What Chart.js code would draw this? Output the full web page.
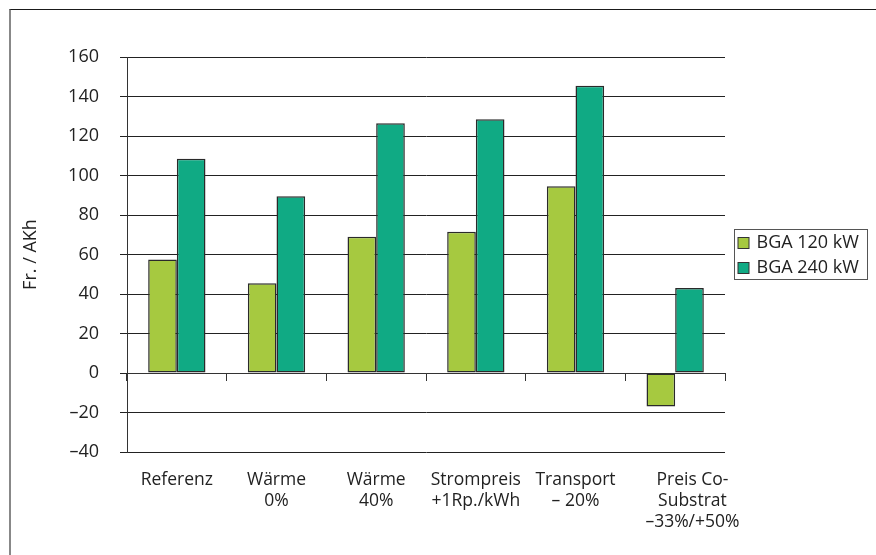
<!DOCTYPE html>
<html>
<head>
<meta charset="utf-8">
<script src="https://cdn.jsdelivr.net/npm/chart.js@4.4.1/dist/chart.umd.min.js"></script>
<style>
  html, body { margin: 0; padding: 0; background: #fff; }
  #wrap { position: relative; width: 876px; height: 555px; }
  #frame { position: absolute; left: 9px; top: 9px; right: 0; bottom: 0;
           border-top: 1px solid #1a1a1a; border-left: 2px solid #888; pointer-events: none; }
</style>
</head>
<body>
<div id="wrap">
  <canvas id="costChart" width="876" height="555"></canvas>
  <div id="frame"></div>
</div>
<script>
// categories (multi-line labels)
const categories = [
    ['Referenz'],
    ['Wärme', '0%'],
    ['Wärme', '40%'],
    ['Strompreis', '+1Rp./kWh'],
    ['Transport', '– 20%'],
    ['Preis Co-', 'Substrat', '–33%/+50%']
];
const seriesNames = ['BGA 120 kW', 'BGA 240 kW'];
const bga120 = [57.5, 45.5, 69, 71.5, 94.5, -17];
const bga240 = [108.5, 89.5, 126.5, 128.5, 145.5, 43];
const yTicks = [-40, -20, 0, 20, 40, 60, 80, 100, 120, 140, 160];

const colors = ['#a6c940', '#10aa84'];
const family = '"Open Sans", "Noto Sans", sans-serif';
const font = { family: family, size: 18 };
const xFont = { family: family, size: 17.5 };
const textColor = '#222';

// legend box drawn to match the boxed legend on the right
const boxLegend = {
    id: 'boxLegend',
    afterDraw(chart) {
        const ctx = chart.ctx;
        const x = 734.5, y = 229.5, w = 133, h = 50;
        ctx.save();
        ctx.strokeStyle = '#555';
        ctx.lineWidth = 1;
        ctx.strokeRect(x, y, w, h);
        ctx.font = font.size + 'px ' + font.family;
        ctx.textBaseline = 'middle';
        chart.data.datasets.forEach(function (ds, i) {
            const cy = y + 13.5 + i * 25;
            ctx.fillStyle = ds.backgroundColor;
            ctx.fillRect(x + 3.5, cy - 5.5, 11, 11);
            ctx.strokeStyle = '#333';
            ctx.strokeRect(x + 3.5, cy - 5.5, 11, 11);
            ctx.fillStyle = textColor;
            ctx.fillText(ds.label, x + 22, cy);
        });
        ctx.restore();
    }
};

document.addEventListener('DOMContentLoaded', function () {
    const canvas = document.getElementById('costChart');
    const ctx = canvas.getContext('2d');

    new Chart(ctx, {
        type: 'bar',
        data: {
            labels: categories,
            datasets: [{
                label: seriesNames[0],
                data: bga120,
                backgroundColor: colors[0],
                borderColor: '#2a2a2a',
                borderWidth: 1.5,
                borderSkipped: false
            }, {
                label: seriesNames[1],
                data: bga240,
                backgroundColor: colors[1],
                borderColor: '#2a2a2a',
                borderWidth: 1.5,
                borderSkipped: false
            }]
        },
        options: {
            responsive: false,
            animation: false,
            categoryPercentage: 0.575,
            barPercentage: 1.0,
            layout: { padding: { left: 10, right: 151, top: 57, bottom: 0 } },
            font: font,
            color: textColor,
            scales: {
                x: {
                    position: 'bottom',
                    grid: { display: false, drawTicks: false },
                    border: { display: false },
                    ticks: {
                        color: textColor, font: xFont, padding: 18, maxRotation: 0, autoSkip: false,
                        callback: function (v, i) {
                            const lbl = this.getLabelForValue(v);
                            // last label sits a bit right of its category centre in the original
                            if (i === categories.length - 1) {
                                return lbl.map(function (s) { return '\u2007\u2007\u2007 ' + s; });
                            }
                            return lbl;
                        }
                    },
                    afterFit(scale) { scale.height = 103; }
                },
                xZero: {
                    type: 'category',
                    position: { y: 0 },
                    grid: { display: true, drawOnChartArea: false, offset: true, tickLength: 7, color: '#333' },
                    border: { display: true, color: '#333' },
                    ticks: { display: false }
                },
                y: {
                    min: yTicks[0],
                    max: yTicks[yTicks.length - 1],
                    afterBuildTicks(scale) { scale.ticks = yTicks.map(function (v) { return { value: v }; }); },
                    grid: { color: '#222', tickLength: 7, lineWidth: 1 },
                    border: { display: true, color: '#333' },
                    ticks: {
                        color: textColor,
                        font: font,
                        padding: 21,
                        callback: function (v) { return v < 0 ? '–' + Math.abs(v) : String(v); }
                    },
                    title: {
                        display: true,
                        text: 'Fr. / AKh',
                        color: textColor,
                        font: font,
                        padding: { top: 10, bottom: 0 }
                    },
                    afterFit(scale) { scale.width = 117; }
                }
            },
            plugins: {
                legend: { display: false },
                tooltip: { enabled: false }
            }
        },
        plugins: [boxLegend]
    });
});
</script>
</body>
</html>
